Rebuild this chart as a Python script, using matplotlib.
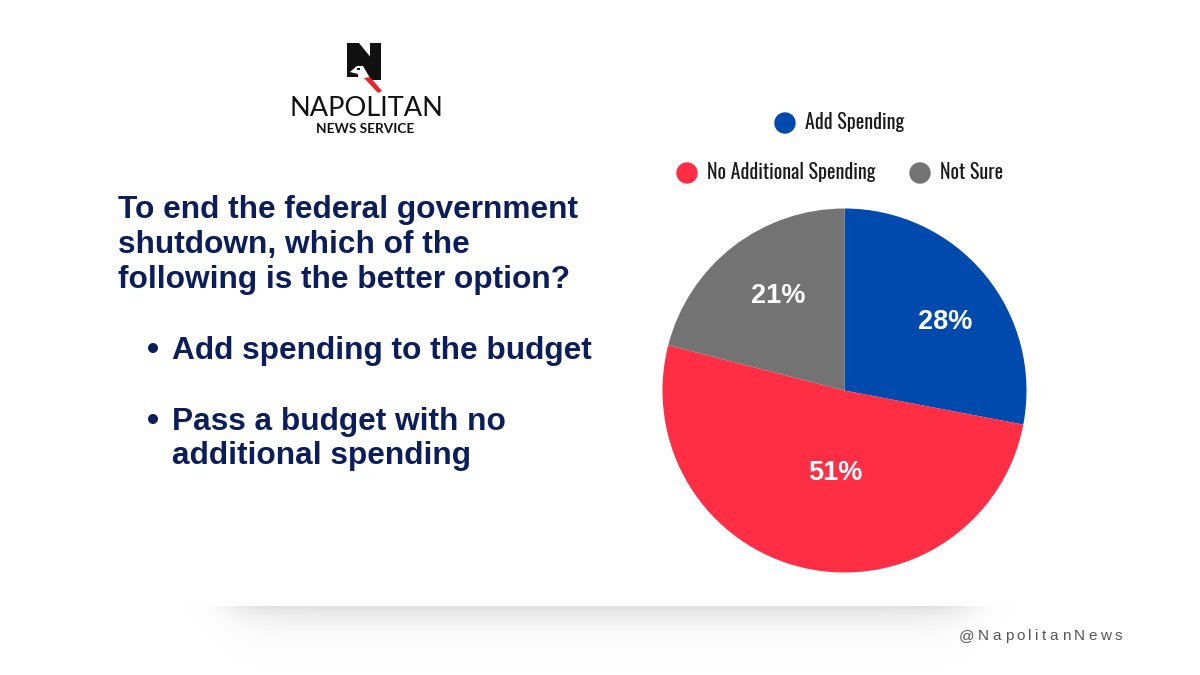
import matplotlib
matplotlib.use("Agg")
import matplotlib.pyplot as plt
import matplotlib.patches as patches
from matplotlib import font_manager
import numpy as np

# --- data ---
labels = ["Add Spending", "No Additional Spending", "Not Sure"]
shares = [28, 51, 21]
colors = ["#004AAD", "#FF2E44", "#737373"]

question = [
    "To end the federal government",
    "shutdown, which of the",
    "following is the better option?",
]
options = [
    ["Add spending to the budget"],
    ["Pass a budget with no", "additional spending"],
]

navy = "#0B1E5B"
text_dark = "#1A1A1A"
W, H = 1200, 675

# pick a narrow font for the legend if one is around
installed = {f.name for f in font_manager.fontManager.ttflist}
narrow = None
for cand in ["Oswald", "Roboto Condensed", "Liberation Sans Narrow",
             "DejaVu Sans Condensed", "Open Sans Condensed", "Noto Sans Condensed"]:
    if cand in installed:
        narrow = cand
        break
if narrow is None:
    cond = sorted(n for n in installed if "Condensed" in n or "Narrow" in n)
    narrow = cond[0] if cond else "Roboto"
leg_size = 14.4 if narrow != "Roboto" else 12.2

fig = plt.figure(figsize=(12, 6.75), dpi=100)
fig.patch.set_facecolor("white")

# background axes in pixel coords (y down)
bg = fig.add_axes([0, 0, 1, 1])
bg.axis("off")

# --- soft shadow under the card ---
xs = np.linspace(150, 1040, 600)
ys = np.linspace(606, 668, 120)
X, Y = np.meshgrid(xs, ys)
vert = np.exp(-(Y - 606) / 16.0)
horiz = 1 / (1 + np.exp(-(X - 232) / 13.0)) * 1 / (1 + np.exp((X - 968) / 13.0))
alpha = 0.19 * vert * horiz
img = np.zeros((len(ys), len(xs), 4))
img[..., :3] = 0.35
img[..., 3] = alpha
bg.imshow(img, extent=[150, 1040, 668, 606], origin="upper",
          interpolation="bilinear", zorder=0, aspect="auto")
bg.set_xlim(0, W)
bg.set_ylim(H, 0)

# --- logo ---
def poly(pts, color, z=3):
    bg.add_patch(patches.Polygon(pts, closed=True, facecolor=color,
                                 edgecolor="none", zorder=z))

poly([(347, 43), (358, 43), (358, 77), (347, 77)], "#111111")
poly([(370, 43), (381, 43), (381, 80), (370, 80)], "#111111")
poly([(347, 43), (359, 43), (381, 70), (381, 80), (370, 80), (347, 52)], "#111111")
# bird head (white cut-out)
poly([(350, 72), (357, 66), (363, 66), (370, 78), (366, 80), (358, 74)], "white", 4)
poly([(357, 68), (360, 68), (360, 70), (357, 70)], "#111111", 5)
# red stripe
poly([(364, 78), (370, 77), (382, 91), (378, 93)], "#E8242C", 4)

bg.text(366.5, 116, "NAPOLITAN", family="Lato", weight="normal", fontsize=19.5,
        color="#111111", ha="center", va="baseline")
bg.text(365, 133, "NEWS SERVICE", family="Lato", weight="bold", fontsize=9.8,
        color="#111111", ha="center", va="baseline")

# --- question text ---
for i, line in enumerate(question):
    bg.text(118, 218 + i * 35, line, family="Liberation Sans", weight="bold",
            fontsize=22.8, color=navy, ha="left", va="baseline")

base = [359, 430]
for j, opt in enumerate(options):
    bg.add_patch(patches.Circle((153, base[j] - 11), 4.3, color=navy, zorder=3))
    for k, line in enumerate(opt):
        bg.text(172, base[j] + k * 34, line, family="Liberation Sans",
                weight="bold", fontsize=22.8, color=navy, ha="left", va="baseline")

# --- pie ---
cx, cy, r = 844.5, 390.5, 182
pax = fig.add_axes([(cx - r) / W, (H - cy - r) / H, 2 * r / W, 2 * r / H])
wedges, _, autotexts = pax.pie(
    shares, colors=colors, startangle=90, counterclock=False,
    autopct=lambda p: f"{p:.0f}%", pctdistance=0.6,
    wedgeprops=dict(linewidth=0),
    textprops=dict(color="white", family="Liberation Sans", weight="bold",
                   fontsize=19.5),
)
pax.set_xlim(-1, 1)
pax.set_ylim(-1, 1)
label_pos = [(0.555, 0.376), (-0.052, -0.453), (-0.365, 0.519)]
for t, pos in zip(autotexts, label_pos):
    t.set_position(pos)
    t.set_ha("center")
    t.set_va("center")

# --- legend (one item on top row, two below) ---
leg_rows = [[0], [1, 2]]
leg_spots = {0: (785, 123), 1: (687, 173), 2: (920, 173)}
for row in leg_rows:
    for idx in row:
        x, y = leg_spots[idx]
        bg.add_patch(patches.Circle((x, y), 10, color=colors[idx], zorder=3))
        bg.text(x + 20, y - 1, labels[idx], family=[narrow, "DejaVu Sans"],
                fontsize=leg_size, color=text_dark, ha="left", va="center")

# --- handle, letter-spaced ---
fig.canvas.draw()
renderer = fig.canvas.get_renderer()
handle = "@NapolitanNews"
x = 959
for ch in handle:
    t = bg.text(x, 640, ch, family="Liberation Sans", fontsize=11,
                color="#555555", ha="left", va="baseline")
    w = t.get_window_extent(renderer).width
    x += w + 3.5

fig.savefig("out.png", dpi=100, facecolor="white")
